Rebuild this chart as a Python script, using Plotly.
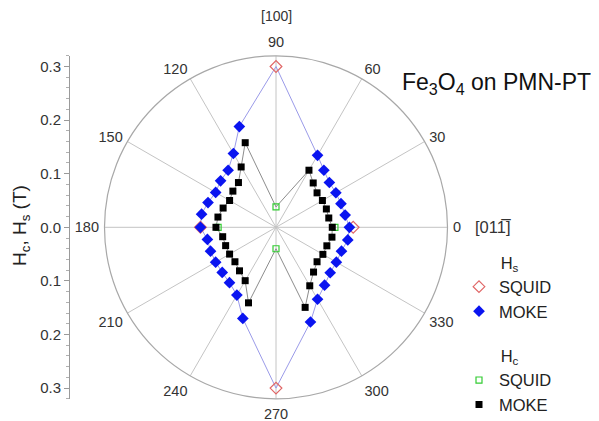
import numpy as np
import plotly.graph_objects as go

# ---------------- data ----------------
hs_squid_theta = [0, 90, 180, 270]
hs_squid_r = [0.144, 0.300, 0.141, 0.300]

hc_squid_theta = [0, 90, 180, 270]
hc_squid_r = [0.110, 0.038, 0.108, 0.040]

moke_theta = [0, 10, 20, 30, 40, 50, 60,
              110, 120, 130, 140, 150, 160, 170, 180,
              190, 200, 210, 220, 230, 240, 250,
              290, 300, 310, 320, 330, 340, 350]

hs_moke_r = [0.137, 0.131, 0.129, 0.129, 0.130, 0.139, 0.155,
             0.200, 0.159, 0.139, 0.135, 0.130, 0.135, 0.141, 0.141,
             0.130, 0.130, 0.130, 0.131, 0.135, 0.146, 0.181,
             0.188, 0.155, 0.141, 0.132, 0.130, 0.130, 0.136]

hc_moke_r = [0.105, 0.100, 0.100, 0.100, 0.100, 0.108, 0.123,
             0.168, 0.130, 0.109, 0.105, 0.100, 0.105, 0.110, 0.112,
             0.101, 0.100, 0.100, 0.100, 0.106, 0.115, 0.150,
             0.159, 0.126, 0.109, 0.100, 0.101, 0.101, 0.106]

angle_ticks = list(range(0, 360, 30))
angle_labels = [str(a) for a in angle_ticks]
left_tickvals = [-0.3, -0.2, -0.1, 0.0, 0.1, 0.2, 0.3]
left_ticktext = ["0.3", "0.2", "0.1", "0.0", "0.1", "0.2", "0.3"]

FONT = "Liberation Sans, Arial, sans-serif"
W, H = 599, 421
OFF = 8  # page body margin


def px(x):  # page pixel -> paper x
    return (x - OFF) / W


def py(y):  # page pixel -> paper y
    return 1 - (y - OFF) / H


# polar placement (page pixels)
cx, cy, R = 276.0, 227.3, 171.5
dom_x = [px(cx - R), px(cx + R)]
dom_y = [py(cy + R), py(cy - R)]


def loop(theta_m, r_m, theta_s, r_s):
    pts = list(zip(theta_m, r_m)) + [(t, r) for t, r in zip(theta_s, r_s) if t in (90, 270)]
    pts.sort(key=lambda p: p[0])
    pts.append(pts[0])
    return [p[0] for p in pts], [p[1] for p in pts]


fig = go.Figure()

# connecting lines
lt, lr = loop(moke_theta, hs_moke_r, hs_squid_theta, hs_squid_r)
fig.add_trace(go.Scatterpolar(theta=lt, r=lr, mode="lines",
                              line=dict(color="#9a9ae8", width=1),
                              showlegend=False, hoverinfo="skip", subplot="polar2"))
lt2, lr2 = loop(moke_theta, hc_moke_r, hc_squid_theta, hc_squid_r)
fig.add_trace(go.Scatterpolar(theta=lt2, r=lr2, mode="lines",
                              line=dict(color="#8c8c8c", width=1),
                              showlegend=False, hoverinfo="skip", subplot="polar2"))

NB = "\u00a0" * 8
# markers
fig.add_trace(go.Scatterpolar(theta=hs_squid_theta, r=hs_squid_r, mode="markers",
                              name="SQUID", legendgroup="hs",
                              legendgrouptitle=dict(text=NB + "H<sub>s</sub>"),
                              marker=dict(symbol="diamond-open", size=9, color="#e06666",
                                          line=dict(width=1.2)),
                              subplot="polar2"))
fig.add_trace(go.Scatterpolar(theta=moke_theta, r=hs_moke_r, mode="markers",
                              name="MOKE", legendgroup="hs",
                              marker=dict(symbol="diamond", size=9, color="#0a14f0"),
                              subplot="polar2"))
fig.add_trace(go.Scatterpolar(theta=hc_squid_theta, r=hc_squid_r, mode="markers",
                              name="SQUID", legendgroup="hc",
                              legendgrouptitle=dict(text=NB + "H<sub>c</sub>"),
                              marker=dict(symbol="square-open", size=6, color="#33cc33",
                                          line=dict(width=1.2)),
                              subplot="polar2"))
fig.add_trace(go.Scatterpolar(theta=moke_theta, r=hc_moke_r, mode="markers",
                              name="MOKE", legendgroup="hc",
                              marker=dict(symbol="square", size=7, color="#000000"),
                              subplot="polar2"))

# dummy trace for the left linear axis
fig.add_trace(go.Scatter(x=[0, 1], y=[0, 0], mode="markers", marker=dict(opacity=0),
                         showlegend=False, hoverinfo="skip", xaxis="x", yaxis="y"))

fig.update_layout(
    width=W, height=H,
    margin=dict(l=0, r=0, t=0, b=0),
    paper_bgcolor="white",
    plot_bgcolor="rgba(0,0,0,0)",
    font=dict(family=FONT, color="#333333"),
    polar=dict(
        domain=dict(x=dom_x, y=dom_y),
        bgcolor="white",
        angularaxis=dict(tickmode="array", tickvals=list(range(15, 360, 30)),
                         showticklabels=False, ticks="", showline=False,
                         gridcolor="#ececec", gridwidth=1),
        radialaxis=dict(range=[0, 0.32], dtick=0.02, tick0=0, showticklabels=False,
                        ticks="", showline=False, gridcolor="#e4e4e4", gridwidth=1),
    ),
    polar2=dict(
        domain=dict(x=dom_x, y=dom_y),
        bgcolor="rgba(0,0,0,0)",
        angularaxis=dict(tickmode="array", tickvals=angle_ticks, ticktext=angle_labels,
                         ticks="outside", ticklen=2, tickcolor="rgba(0,0,0,0)",
                         showline=True, linecolor="#a8a8a8", linewidth=1.2,
                         gridcolor="#c4c4c4", gridwidth=1,
                         tickfont=dict(size=14.5, color="#333333")),
        radialaxis=dict(range=[0, 0.32], showgrid=False, showticklabels=False,
                        ticks="", showline=False),
    ),
    xaxis=dict(domain=[px(70), px(90)], visible=False, range=[0, 1], fixedrange=True),
    yaxis=dict(domain=dom_y, range=[-0.32, 0.32], anchor="x", side="left",
               tickmode="array", tickvals=left_tickvals, ticktext=left_ticktext,
               ticks="outside", ticklen=5, tickcolor="#9a9a9a", tickwidth=1,
               showline=True, linecolor="#9a9a9a", linewidth=1,
               showgrid=False, zeroline=False,
               minor=dict(tickmode="array",
                          tickvals=[round(v, 2) for v in np.arange(-0.32, 0.321, 0.02)],
                          ticks="outside", ticklen=3, tickcolor="#b0b0b0", showgrid=False),
               tickfont=dict(size=15, color="#333333")),
    legend=dict(x=px(459), y=py(245), xanchor="left", yanchor="top",
                bgcolor="rgba(0,0,0,0)", font=dict(size=16.5, color="#222222"),
                grouptitlefont=dict(size=16.5, color="#222222"),
                tracegroupgap=20, itemsizing="trace"),
    annotations=[
        dict(text="[100]", x=px(cx), y=py(16), xref="paper", yref="paper",
             showarrow=False, font=dict(size=14, color="#333333"),
             xanchor="center", yanchor="middle"),
        dict(text="[011\u0305]", x=px(473), y=py(227), xref="paper", yref="paper",
             showarrow=False, font=dict(size=16.5, color="#333333"),
             xanchor="left", yanchor="middle"),
        dict(text="Fe<sub>3</sub>O<sub>4</sub> on PMN-PT", x=px(400), y=py(84),
             xref="paper", yref="paper", showarrow=False,
             font=dict(size=23, color="#111111"), xanchor="left", yanchor="middle"),
        dict(text="H<sub>c</sub>, H<sub>s</sub> (T)", x=px(21), y=py(226),
             xref="paper", yref="paper", showarrow=False, textangle=-90,
             font=dict(size=19, color="#222222"), xanchor="center", yanchor="middle"),
    ],
)

fig.write_html("out.html")
